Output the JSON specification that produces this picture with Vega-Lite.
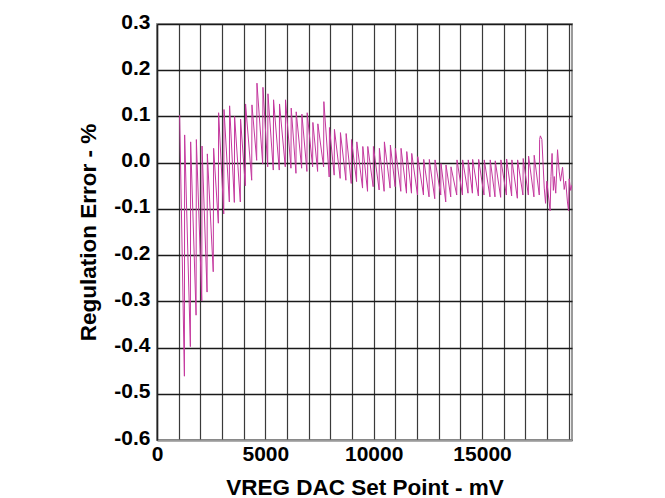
{
  "$schema": "https://vega.github.io/schema/vega-lite/v6.json",
  "width": 415,
  "height": 416,
  "autosize": {"type": "none"},
  "padding": {"left": 157, "top": 24, "right": 93, "bottom": 58},
  "background": "white",
  "config": {"view": {"stroke": "#9a9a9a", "strokeWidth": 2}, "font": "Liberation Sans"},
  "data": {"values": [
    {"v": 1046, "e": 0.103}, {"v": 1264, "e": -0.462}, {"v": 1276, "e": 0.060},
    {"v": 1540, "e": -0.398}, {"v": 1553, "e": 0.045},
    {"v": 1803, "e": -0.330}, {"v": 1816, "e": 0.050},
    {"v": 2066, "e": -0.299}, {"v": 2078, "e": 0.036},
    {"v": 2310, "e": -0.280}, {"v": 2323, "e": 0.019},
    {"v": 2595, "e": -0.236}, {"v": 2613, "e": 0.031},
    {"v": 2830, "e": -0.131}, {"v": 2843, "e": 0.108},
    {"v": 3080, "e": -0.111}, {"v": 3092, "e": 0.115},
    {"v": 3338, "e": -0.085}, {"v": 3350, "e": 0.123},
    {"v": 3569, "e": -0.086}, {"v": 3581, "e": 0.100},
    {"v": 3845, "e": -0.085}, {"v": 3857, "e": 0.094},
    {"v": 4075, "e": -0.050}, {"v": 4087, "e": 0.127},
    {"v": 4370, "e": -0.038}, {"v": 4382, "e": 0.125},
    {"v": 4600, "e": 0.005}, {"v": 4613, "e": 0.172},
    {"v": 4877, "e": -0.003}, {"v": 4889, "e": 0.163},
    {"v": 5108, "e": -0.009}, {"v": 5120, "e": 0.149},
    {"v": 5366, "e": -0.016}, {"v": 5378, "e": 0.136},
    {"v": 5642, "e": -0.016}, {"v": 5654, "e": 0.127},
    {"v": 5919, "e": -0.009}, {"v": 5931, "e": 0.136},
    {"v": 6181, "e": -0.012}, {"v": 6193, "e": 0.118},
    {"v": 6412, "e": -0.023}, {"v": 6424, "e": 0.110},
    {"v": 6674, "e": -0.012}, {"v": 6686, "e": 0.105},
    {"v": 6918, "e": -0.019}, {"v": 6930, "e": 0.108},
    {"v": 7181, "e": -0.009}, {"v": 7193, "e": 0.087},
    {"v": 7411, "e": -0.019}, {"v": 7423, "e": 0.084},
    {"v": 7688, "e": -0.009}, {"v": 7700, "e": 0.132},
    {"v": 7946, "e": -0.031}, {"v": 7958, "e": 0.076},
    {"v": 8176, "e": -0.027}, {"v": 8188, "e": 0.072},
    {"v": 8453, "e": -0.034}, {"v": 8465, "e": 0.065},
    {"v": 8716, "e": -0.038}, {"v": 8728, "e": 0.063},
    {"v": 8963, "e": -0.045}, {"v": 8975, "e": 0.050},
    {"v": 9209, "e": -0.041}, {"v": 9221, "e": 0.045},
    {"v": 9485, "e": -0.055}, {"v": 9497, "e": 0.035},
    {"v": 9715, "e": -0.062}, {"v": 9727, "e": 0.035},
    {"v": 9974, "e": -0.052}, {"v": 9986, "e": 0.035},
    {"v": 10250, "e": -0.059}, {"v": 10262, "e": 0.031},
    {"v": 10481, "e": -0.062}, {"v": 10493, "e": 0.045},
    {"v": 10757, "e": -0.055}, {"v": 10769, "e": 0.038},
    {"v": 10988, "e": -0.052}, {"v": 11000, "e": 0.031},
    {"v": 11250, "e": -0.062}, {"v": 11262, "e": 0.031},
    {"v": 11513, "e": -0.066}, {"v": 11525, "e": 0.024},
    {"v": 11743, "e": -0.066}, {"v": 11755, "e": 0.020},
    {"v": 12020, "e": -0.070}, {"v": 12032, "e": 0.013},
    {"v": 12296, "e": -0.070}, {"v": 12308, "e": 0.007},
    {"v": 12554, "e": -0.074}, {"v": 12566, "e": 0.007},
    {"v": 12817, "e": -0.078}, {"v": 12829, "e": 0.006},
    {"v": 13093, "e": -0.070}, {"v": 13105, "e": -0.002},
    {"v": 13324, "e": -0.085}, {"v": 13336, "e": -0.005},
    {"v": 13554, "e": -0.074}, {"v": 13566, "e": -0.009},
    {"v": 13831, "e": -0.070}, {"v": 13843, "e": 0.006},
    {"v": 14093, "e": -0.070}, {"v": 14105, "e": 0.006},
    {"v": 14351, "e": -0.066}, {"v": 14363, "e": 0.006},
    {"v": 14554, "e": -0.066}, {"v": 14566, "e": 0.007},
    {"v": 14830, "e": -0.072}, {"v": 14842, "e": 0.007},
    {"v": 15089, "e": -0.070}, {"v": 15101, "e": 0.006},
    {"v": 15365, "e": -0.074}, {"v": 15377, "e": 0.006},
    {"v": 15596, "e": -0.074}, {"v": 15608, "e": 0.004},
    {"v": 15858, "e": -0.075}, {"v": 15870, "e": 0.006},
    {"v": 16121, "e": -0.070}, {"v": 16133, "e": 0.008},
    {"v": 16365, "e": -0.072}, {"v": 16377, "e": 0.006},
    {"v": 16628, "e": -0.077}, {"v": 16640, "e": 0.006},
    {"v": 16886, "e": -0.070}, {"v": 16898, "e": 0.009},
    {"v": 17135, "e": -0.070}, {"v": 17147, "e": 0.014},
    {"v": 17393, "e": -0.074}, {"v": 17405, "e": 0.016},
    {"v": 17640, "e": -0.070}, {"v": 17655, "e": 0.050},
    {"v": 17690, "e": 0.058}, {"v": 17760, "e": 0.050},
    {"v": 17870, "e": -0.055}, {"v": 17930, "e": -0.088},
    {"v": 17990, "e": -0.040}, {"v": 18060, "e": -0.070},
    {"v": 18140, "e": -0.104}, {"v": 18180, "e": -0.030},
    {"v": 18230, "e": 0.020}, {"v": 18290, "e": -0.060},
    {"v": 18330, "e": -0.030}, {"v": 18400, "e": -0.066},
    {"v": 18483, "e": 0.028}, {"v": 18560, "e": -0.020},
    {"v": 18620, "e": -0.040}, {"v": 18714, "e": -0.010},
    {"v": 18790, "e": -0.058}, {"v": 18860, "e": -0.040},
    {"v": 18940, "e": -0.085}, {"v": 18990, "e": -0.104},
    {"v": 19020, "e": -0.035}, {"v": 19090, "e": -0.060},
    {"v": 19150, "e": -0.048}
  ]},
  "mark": {"type": "line", "color": "#c4389e", "strokeWidth": 1, "clip": true},
  "encoding": {
    "x": {
      "field": "v", "type": "quantitative",
      "scale": {"domain": [0, 19150], "nice": false, "zero": false},
      "axis": {
        "values": [0, 1000, 2000, 3000, 4000, 5000, 6000, 7000, 8000, 9000, 10000, 11000, 12000, 13000, 14000, 15000, 16000, 17000, 18000, 19000],
        "labelExpr": "datum.value % 5000 === 0 ? format(datum.value, 'd') : ''",
        "labelFlush": false, "labelOverlap": false,
        "grid": true, "gridColor": "#3a3a3a", "gridWidth": 1.2,
        "ticks": false, "domain": true, "domainColor": "#9a9a9a", "domainWidth": 2,
        "labelFont": "Liberation Sans", "labelFontSize": 21, "labelFontWeight": "bold", "labelColor": "#000",
        "labelPadding": 3,
        "title": "VREG DAC Set Point - mV", "titleFont": "Liberation Sans", "titleFontSize": 22.5,
        "titleFontWeight": "bold", "titleColor": "#000", "titlePadding": 12
      }
    },
    "y": {
      "field": "e", "type": "quantitative",
      "scale": {"domain": [-0.6, 0.3], "nice": false, "zero": false},
      "axis": {
        "values": [-0.6, -0.5, -0.4, -0.3, -0.2, -0.1, 0, 0.1, 0.2, 0.3],
        "labelExpr": "(datum.value < -0.001 ? '-' : '') + format(abs(datum.value), '.1f')",
        "grid": true, "gridColor": "#1a1a1a", "gridWidth": 1.5,
        "ticks": false, "domain": true, "domainColor": "#222", "domainWidth": 1.5,
        "labelFont": "Liberation Sans", "labelFontSize": 21, "labelFontWeight": "bold", "labelColor": "#000",
        "labelPadding": 7, "labelOffset": -2,
        "title": "Regulation Error - %", "titleFont": "Liberation Sans", "titleFontSize": 22.5,
        "titleFontWeight": "bold", "titleColor": "#000", "titlePadding": 13
      }
    }
  }
}
